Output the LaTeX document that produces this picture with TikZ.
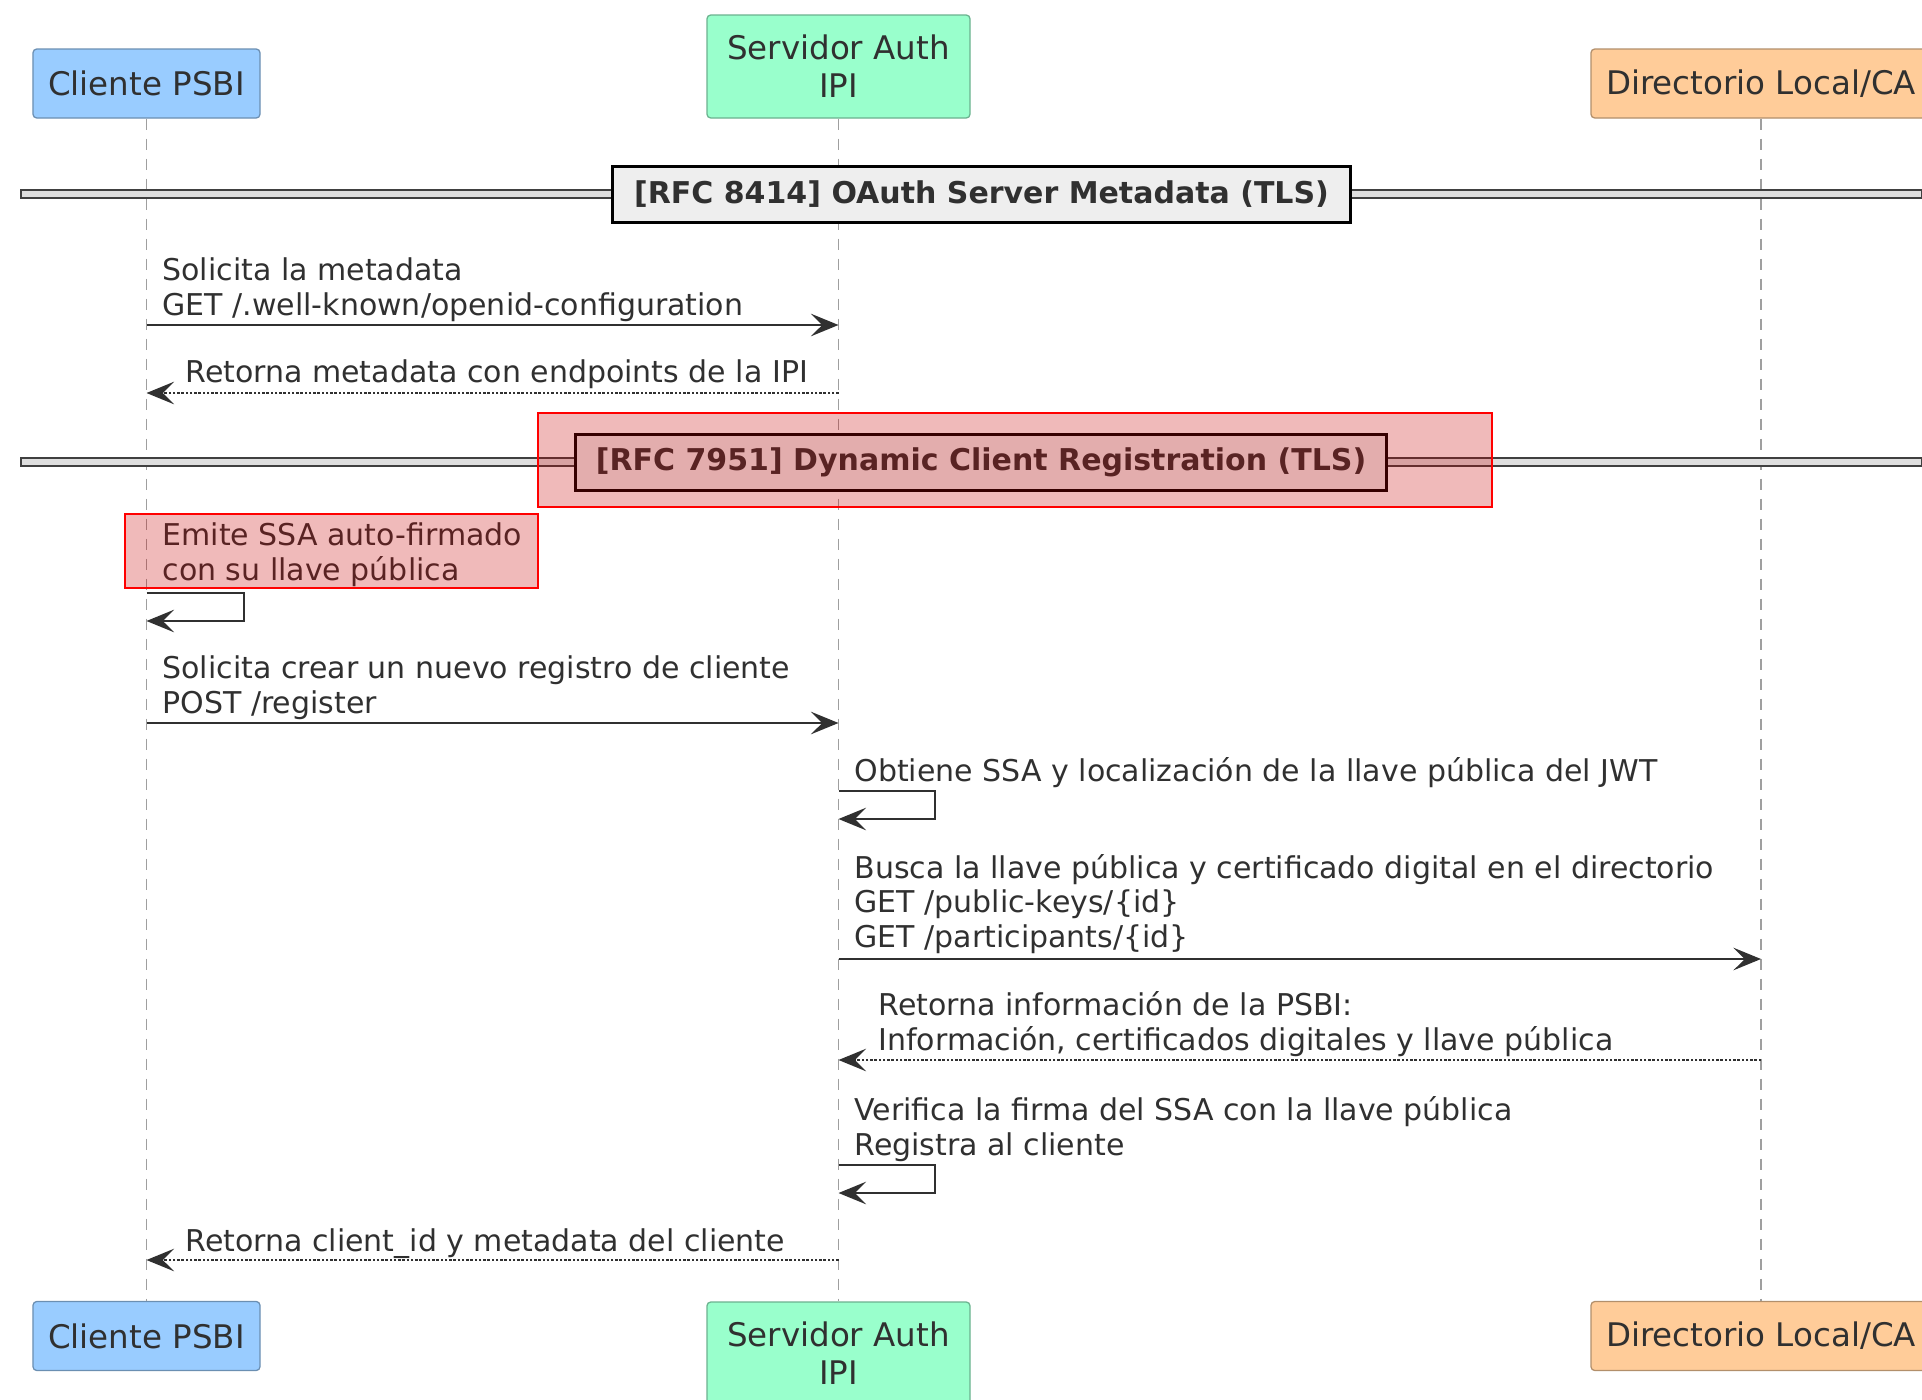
\documentclass[tikz,border=0pt]{standalone}
\usepackage{fontspec}
\setmainfont{DejaVu Sans}
\usetikzlibrary{arrows.meta}

\definecolor{cliFill}{HTML}{99CCFF}
\definecolor{srvFill}{HTML}{99FFCC}
\definecolor{dirFill}{HTML}{FFCC99}
\definecolor{divFill}{HTML}{EEEEEE}
\definecolor{hlFill}{RGB}{200,0,0}
\definecolor{ink}{HTML}{303030}

\tikzset{
  actor/.style={rounded corners=1.5pt, line width=0.5pt, align=center, inner sep=0pt,
    minimum height=27.6pt, text=ink, font=\fontsize{13}{15.1}\selectfont},
  lifeline/.style={draw=gray!75, line width=0.6pt, dash pattern=on 4.4pt off 3.6pt},
  msg/.style={draw=ink, line width=0.7pt, -{Stealth[length=11pt,width=9pt,inset=4.5pt]}},
  ret/.style={msg, dash pattern=on 1pt off 0.7pt},
  lbl/.style={inner sep=0pt, align=left, anchor=base west, text=ink,
    font=\fontsize{12}{13.8}\selectfont},
  divline/.style={fill=gray!25, draw=black!75, line width=0.8pt},
  divbox/.style={fill=divFill, draw=black, line width=1.2pt, inner sep=0pt, minimum height=22.4pt,
    text=ink, font=\fontsize{12}{13.8}\selectfont\bfseries},
  hl/.style={draw=red, line width=0.8pt, fill=hlFill, fill opacity=0.27}
}

\begin{document}
\begin{tikzpicture}[x=0.4pt,y=-0.4pt]
  \useasboundingbox (0,0) rectangle (1922,1400);
  % Participantes (arriba y abajo)
  \node[actor, fill=cliFill, draw=cliFill!70!black, minimum width=90.8pt] (cli) at (146.5,83.5) {Cliente PSBI};
  \node[actor, fill=srvFill, draw=srvFill!70!black, minimum width=105.2pt, minimum height=41.2pt] (srv) at (838.5,66.5) {Servidor Auth\\IPI};
  \node[actor, fill=dirFill, draw=dirFill!70!black, minimum width=136pt] (dir) at (1761,83.5) {Directorio Local/CA};
  \node[actor, fill=cliFill, draw=cliFill!70!black, minimum width=90.8pt] (cliB) at (146.5,1336) {Cliente PSBI};
  \node[actor, fill=srvFill, draw=srvFill!70!black, minimum width=105.2pt, minimum height=41.2pt] (srvB) at (838.5,1353.5) {Servidor Auth\\IPI};
  \node[actor, fill=dirFill, draw=dirFill!70!black, minimum width=136pt] (dirB) at (1761,1336) {Directorio Local/CA};
  % Lineas de vida
  \draw[lifeline] (cli.south) -- (cliB.north);
  \draw[lifeline] (srv.south) -- (srvB.north);
  \draw[lifeline] (dir.south) -- (dirB.north);

  % Separador RFC 8414
  \draw[divline] (21,190) rectangle (1922,198);
  \node[divbox, minimum width=294.8pt] (div1) at (981.5,194) {[RFC 8414] OAuth Server Metadata (TLS)};

  % Metadata
  \node[lbl] (t1) at (162,315) {Solicita la metadata\\GET /.well-known/openid-configuration};
  \draw[msg] (cli |- 0,325) -- (srv |- 0,325);
  \node[lbl] (t2) at (185,382) {Retorna metadata con endpoints de la IPI};
  \draw[ret] (srv |- 0,393) -- (cli |- 0,393);

  % Separador RFC 7951
  \draw[divline] (21,458) rectangle (1922,466);
  \node[divbox, minimum width=324pt] (div2) at (981,462) {[RFC 7951] Dynamic Client Registration (TLS)};

  % SSA auto-firmado
  \node[lbl] (t3) at (162,580) {Emite SSA auto-firmado\\con su llave pública};
  \draw[msg] (cli |- 0,593) -| (244,621) -- (cli |- 0,621);
  \node[lbl] (t4) at (162,713) {Solicita crear un nuevo registro de cliente\\POST /register};
  \draw[msg] (cli |- 0,723) -- (srv |- 0,723);
  \node[lbl] (t5) at (854,781) {Obtiene SSA y localización de la llave pública del JWT};
  \draw[msg] (srv |- 0,791) -| (935,819) -- (srv |- 0,819);

  % Consulta al directorio
  \node[lbl] (t6) at (854,947) {Busca la llave pública y certificado digital en el directorio\\GET /public-keys/\{id\}\\GET /participants/\{id\}};
  \draw[msg] (srv |- 0,959) -- (dir |- 0,959);
  \node[lbl] (t7) at (878,1050) {Retorna información de la PSBI:\\Información, certificados digitales y llave pública};
  \draw[ret] (dir |- 0,1060) -- (srv |- 0,1060);
  \node[lbl] (t8) at (854,1155) {Verifica la firma del SSA con la llave pública\\Registra al cliente};
  \draw[msg] (srv |- 0,1165) -| (935,1193) -- (srv |- 0,1193);
  \node[lbl] (t9) at (185,1251) {Retorna client\_id y metadata del cliente};
  \draw[ret] (srv |- 0,1260) -- (cli |- 0,1260);

  % Resaltados rojos
  \draw[hl] (538,413) rectangle (1492,507);
  \draw[hl] (125,514) rectangle (538,588);
\end{tikzpicture}
\end{document}
